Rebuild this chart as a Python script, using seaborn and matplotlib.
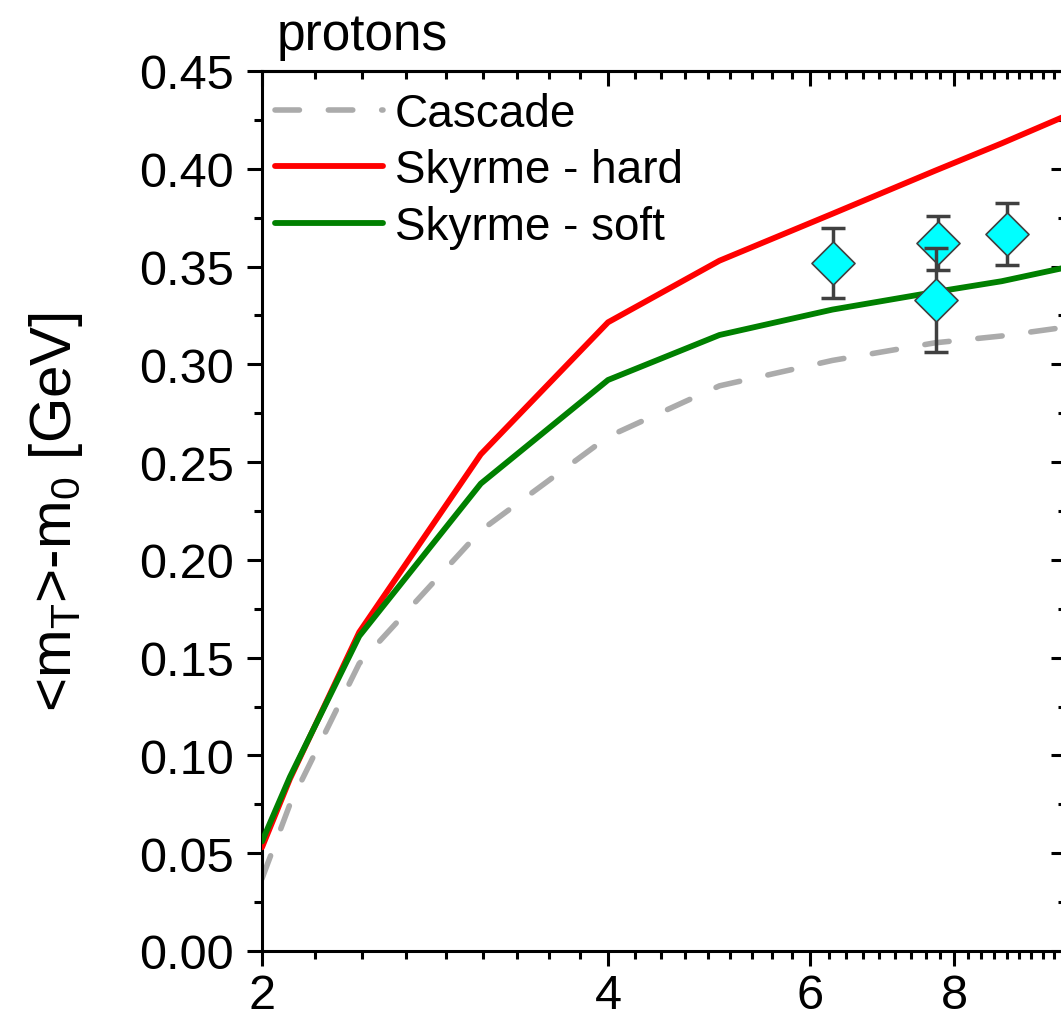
import pandas as pd
import seaborn as sns
import matplotlib.pyplot as plt
from matplotlib.ticker import FixedLocator, NullFormatter, FuncFormatter

# model curves: <mT>-m0 vs sqrt(s_NN)
sqrt_s = [2.0, 2.115, 2.43, 3.10, 4.0, 5.0, 6.27, 7.7, 8.8, 10.0]
cascade = [0.037, 0.075, 0.147, 0.215, 0.263, 0.289, 0.302, 0.311, 0.3145, 0.319]
skyrme_hard = [0.053, 0.088, 0.163, 0.254, 0.3215, 0.353, 0.377, 0.399, 0.413, 0.427]
skyrme_soft = [0.056, 0.089, 0.161, 0.239, 0.292, 0.315, 0.328, 0.337, 0.3425, 0.3495]

# data points
data_x = [6.28, 7.75, 7.72, 8.90]
data_y = [0.3518, 0.3619, 0.3329, 0.3666]
data_err = [0.0178, 0.0138, 0.0267, 0.0160]

x_major = [2, 4, 6, 8]
y_major = [i * 0.05 for i in range(10)]

sns.set_theme(style='ticks')
plt.rcParams['font.family'] = ['Liberation Sans', 'DejaVu Sans']
plt.rcParams['mathtext.fontset'] = 'custom'
plt.rcParams['mathtext.rm'] = 'Liberation Sans'
plt.rcParams['mathtext.it'] = 'Liberation Sans:italic'
plt.rcParams['text.color'] = 'black'
plt.rcParams['axes.labelcolor'] = 'black'
plt.rcParams['xtick.color'] = 'black'
plt.rcParams['ytick.color'] = 'black'

fig = plt.figure(figsize=(10.61, 10.20), dpi=100)
ax = fig.add_axes([262 / 1061, 68 / 1020, 803.5 / 1061, 880 / 1020])

curves = pd.DataFrame({'x': sqrt_s, 'cascade': cascade,
                       'hard': skyrme_hard, 'soft': skyrme_soft})

sns.lineplot(data=curves, x='x', y='cascade', ax=ax, color='#ababab', lw=4.0,
             linestyle=(0, (4.4, 5.2)), dash_capstyle='round',
             label='Cascade', estimator=None, sort=False, zorder=2)
sns.lineplot(data=curves, x='x', y='hard', ax=ax, color='#ff0000', lw=4.2,
             label='Skyrme - hard', estimator=None, sort=False, zorder=3)
sns.lineplot(data=curves, x='x', y='soft', ax=ax, color='#008000', lw=4.2,
             label='Skyrme - soft', estimator=None, sort=False, zorder=4)

# each point: bar first, then diamond on top
z = 5
for xv, yv, ev in zip(data_x, data_y, data_err):
    ax.errorbar(xv, yv, yerr=ev, fmt='none', ecolor='#404040', elinewidth=2.5,
                capsize=8.3, capthick=2.5, zorder=z)
    sns.scatterplot(x=[xv], y=[yv], ax=ax, marker='D', s=480, color='#00ffff',
                    edgecolor='#404040', linewidth=1.2, legend=False, zorder=z + 1)
    z += 2

ax.set_xscale('log')
ax.set_xlim(2, 10)
ax.set_ylim(0, 0.45)

x_minor = [a + 2 * k / 9 for a in x_major for k in range(1, 9)]
y_minor = [0.025 + i * 0.05 for i in range(9)]

ax.xaxis.set_major_locator(FixedLocator(x_major))
ax.xaxis.set_minor_locator(FixedLocator(x_minor))
ax.xaxis.set_major_formatter(FuncFormatter(lambda v, p: f'{v:g}'))
ax.xaxis.set_minor_formatter(NullFormatter())
ax.yaxis.set_major_locator(FixedLocator(y_major))
ax.yaxis.set_minor_locator(FixedLocator(y_minor))
ax.yaxis.set_major_formatter(FuncFormatter(lambda v, p: f'{v:.2f}'))

ax.tick_params(which='both', direction='out', width=2.2, labelsize=35,
               color='black', labelcolor='black')
ax.tick_params(which='major', length=11)
ax.tick_params(which='minor', length=6)
ax.tick_params(axis='y', pad=9)
ax.tick_params(axis='x', pad=5)

for side in ['left', 'bottom', 'top', 'right']:
    ax.spines[side].set_linewidth(2.2)
    ax.spines[side].set_color('black')

# top and right axes with inward ticks
top = ax.secondary_xaxis('top')
top.xaxis.set_major_locator(FixedLocator(x_major))
top.xaxis.set_minor_locator(FixedLocator(x_minor))
top.xaxis.set_major_formatter(NullFormatter())
top.xaxis.set_minor_formatter(NullFormatter())
top.tick_params(which='both', direction='in', width=2.2, labeltop=False, color='black')
top.tick_params(which='major', length=11)
top.tick_params(which='minor', length=6)
top.spines['top'].set_linewidth(2.2)
top.spines['top'].set_color('black')

right = ax.secondary_yaxis('right')
right.yaxis.set_major_locator(FixedLocator(y_major))
right.yaxis.set_minor_locator(FixedLocator(y_minor))
right.yaxis.set_major_formatter(NullFormatter())
right.tick_params(which='both', direction='in', width=2.2, labelright=False, color='black')
right.tick_params(which='major', length=11)
right.tick_params(which='minor', length=6)
right.spines['right'].set_linewidth(2.2)
right.spines['right'].set_color('black')

ax.set_xlabel('')
ax.set_ylabel(r'<m$_\mathrm{T}$>-m$_\mathrm{0}$ [GeV]', fontsize=42, color='black')
ax.yaxis.set_label_coords(-0.22, 0.5)

fig.text(277 / 1061, 1 - 50 / 1020, 'protons', fontsize=37, va='baseline',
         ha='left', color='black')

leg = ax.legend(loc='upper left', bbox_to_anchor=(275 / 1061, 1 - 93 / 1020),
                bbox_transform=fig.transFigure, frameon=False, fontsize=33,
                handlelength=2.36, handletextpad=0.26, labelspacing=0.27,
                borderpad=0, borderaxespad=0)
for t in leg.get_texts():
    t.set_color('black')

fig.savefig('out.png', dpi=100)
